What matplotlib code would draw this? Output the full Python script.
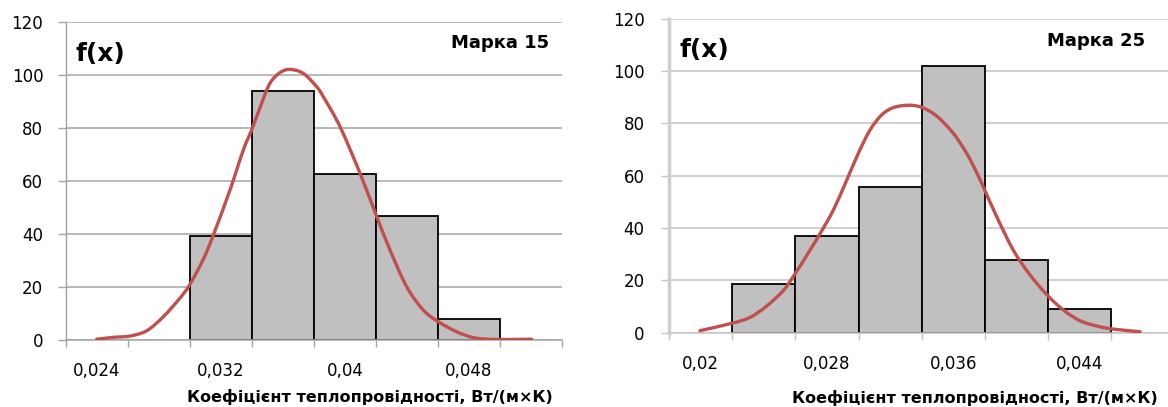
import matplotlib
matplotlib.use('Agg')
import matplotlib.pyplot as plt
from matplotlib.path import Path
from matplotlib.patches import PathPatch
import numpy as np

# Дані гістограм (центри інтервалів і частоти)
centers_15 = [0.032, 0.036, 0.040, 0.044, 0.048]
freq_15 = [39.2, 93.8, 62.7, 46.9, 7.8]

centers_25 = [0.024, 0.028, 0.032, 0.036, 0.040, 0.044]
freq_25 = [18.4, 37.0, 55.8, 102.0, 27.7, 9.0]

# Криві щільності f(x)
curve_x_15 = [0.02398, 0.02505, 0.02613, 0.02721, 0.02828, 0.02935, 0.0300, 0.03086,
              0.0315, 0.03258, 0.03344, 0.03402, 0.03462, 0.03516, 0.03581, 0.03645,
              0.03731, 0.03817, 0.0386, 0.03968, 0.04097, 0.04205, 0.0429,
              0.04398, 0.04505, 0.04602, 0.04721, 0.04828, 0.04935, 0.05065, 0.05205]
curve_y_15 = [0.3, 1.0, 1.5, 3.5, 8.8, 15.8, 21.0, 30.5,
              39.5, 56.6, 71.7, 79.9, 89.3, 96.9, 100.9, 102.1,
              100.6, 95.6, 91.8, 80.5, 62.9, 46.5, 34.0,
              20.1, 11.3, 6.9, 3.1, 0.9, 0.25, 0.2, 0.3]

curve_x_25 = [0.01996, 0.02197, 0.02313, 0.02418, 0.02523, 0.02593, 0.02672, 0.02756,
              0.0284, 0.02925, 0.02998, 0.03072, 0.03146, 0.0322, 0.03315, 0.03399,
              0.03494, 0.03599, 0.03684, 0.03747, 0.03798, 0.03874, 0.03979, 0.04085,
              0.04194, 0.04296, 0.04401, 0.04507, 0.04612, 0.04781]
curve_y_25 = [0.7, 3.5, 5.8, 10.1, 16.0, 22.0, 29.5, 37.8,
              46.8, 58.3, 68.5, 77.4, 83.2, 86.0, 86.9, 86.1,
              82.8, 76.2, 68.5, 61.2, 54.5, 44.3, 31.5, 22.0,
              14.3, 8.6, 4.5, 2.5, 1.3, 0.3]

# Підписи осі X
xticks_15 = [0.024, 0.032, 0.040, 0.048]
xlabels_15 = ['0,024', '0,032', '0,04', '0,048']
xticks_25 = [0.020, 0.028, 0.036, 0.044]
xlabels_25 = ['0,02', '0,028', '0,036', '0,044']

yticks = [0, 20, 40, 60, 80, 100, 120]
step = 0.004


def smooth_path(xs, ys):
    # згладжена лінія як в Excel: кубічні криві Безьє через точки
    p = np.column_stack([xs, ys])
    n = len(p)
    verts = [p[0]]
    codes = [Path.MOVETO]
    for i in range(n - 1):
        p0 = p[i - 1] if i > 0 else p[i]
        p3 = p[i + 2] if i + 2 < n else p[i + 1]
        c1 = p[i] + (p[i + 1] - p0) / 6
        c2 = p[i + 1] - (p3 - p[i]) / 6
        verts += [c1, c2, p[i + 1]]
        codes += [Path.CURVE4] * 3
    return Path(verts, codes)


plt.rcParams['font.family'] = ['DejaVu Sans']

W, H = 1168, 407
fig = plt.figure(figsize=(W / 100, H / 100), dpi=100)

ax1 = fig.add_axes([66 / W, 1 - 340 / H, (562 - 66) / W, (340 - 22) / H])
ax2 = fig.add_axes([669 / W, 1 - 332.5 / H, (1174.6 - 669) / W, (332.5 - 18.7) / H])

panels = [
    (ax1, centers_15, freq_15, curve_x_15, curve_y_15, xticks_15, xlabels_15,
     0.022, '#a6a6a6', '#a0a0a0', 1.0, 10.8),
    (ax2, centers_25, freq_25, curve_x_25, curve_y_25, xticks_25, xlabels_25,
     0.018, '#c4c4c4', '#d0d0d0', 2.5, 12.0),
]

for ax, cen, freq, cx, cy, xt, xl, x0, gcol, acol, alw, ypad in panels:
    ax.bar(cen, freq, width=step, color='#c0c0c0', edgecolor='black',
           linewidth=1.3, zorder=2)
    ax.add_patch(PathPatch(smooth_path(cx, cy), fill=False, edgecolor='#c0504d',
                           linewidth=2.4, zorder=3, capstyle='round'))

    ax.set_xlim(x0, x0 + 8 * step)
    ax.set_ylim(0, 120)

    # поділки на межах інтервалів, підписи по центру
    bounds = [x0 + i * step for i in range(9)]
    ax.set_xticks(bounds)
    ax.set_xticklabels([''] * len(bounds))
    ax.set_xticks(xt, minor=True)
    ax.set_xticklabels(xl, minor=True, fontsize=12)
    ax.tick_params(axis='x', which='major', length=5.2, width=1, color=gcol,
                   direction='out')
    ax.tick_params(axis='x', which='minor', length=0, pad=16)

    ax.set_yticks(yticks)
    ax.set_yticklabels([str(v) for v in yticks], fontsize=12)
    ax.tick_params(axis='y', length=5.5, width=1, color=gcol, pad=ypad)

    ax.yaxis.grid(True, color=gcol, linewidth=1.1)
    ax.set_axisbelow(True)

    for s in ['top', 'right']:
        ax.spines[s].set_visible(False)
    ax.spines['left'].set_color(acol)
    ax.spines['left'].set_linewidth(alw)
    ax.spines['bottom'].set_color(gcol)
    ax.spines['bottom'].set_linewidth(1.1)

ax1.text(0.02, 0.899, 'f(x)', transform=ax1.transAxes, fontsize=18,
         fontweight='bold', ha='left', va='center')
ax2.text(0.02, 0.900, 'f(x)', transform=ax2.transAxes, fontsize=18,
         fontweight='bold', ha='left', va='center')
ax1.text(0.974, 0.934, 'Марка 15', transform=ax1.transAxes, fontsize=13,
         fontweight='bold', ha='right', va='center')
ax2.text(0.941, 0.929, 'Марка 25', transform=ax2.transAxes, fontsize=13,
         fontweight='bold', ha='right', va='center')

xlabel = 'Коефіцієнт теплопровідності, Вт/(м×К)'
fig.text(553 / W, 1 - 397 / H, xlabel, fontsize=11.5, fontweight='bold',
         ha='right', va='center')
fig.text(1158 / W, 1 - 398 / H, xlabel, fontsize=11.5, fontweight='bold',
         ha='right', va='center')

fig.savefig('out.png', dpi=100, facecolor='white')
